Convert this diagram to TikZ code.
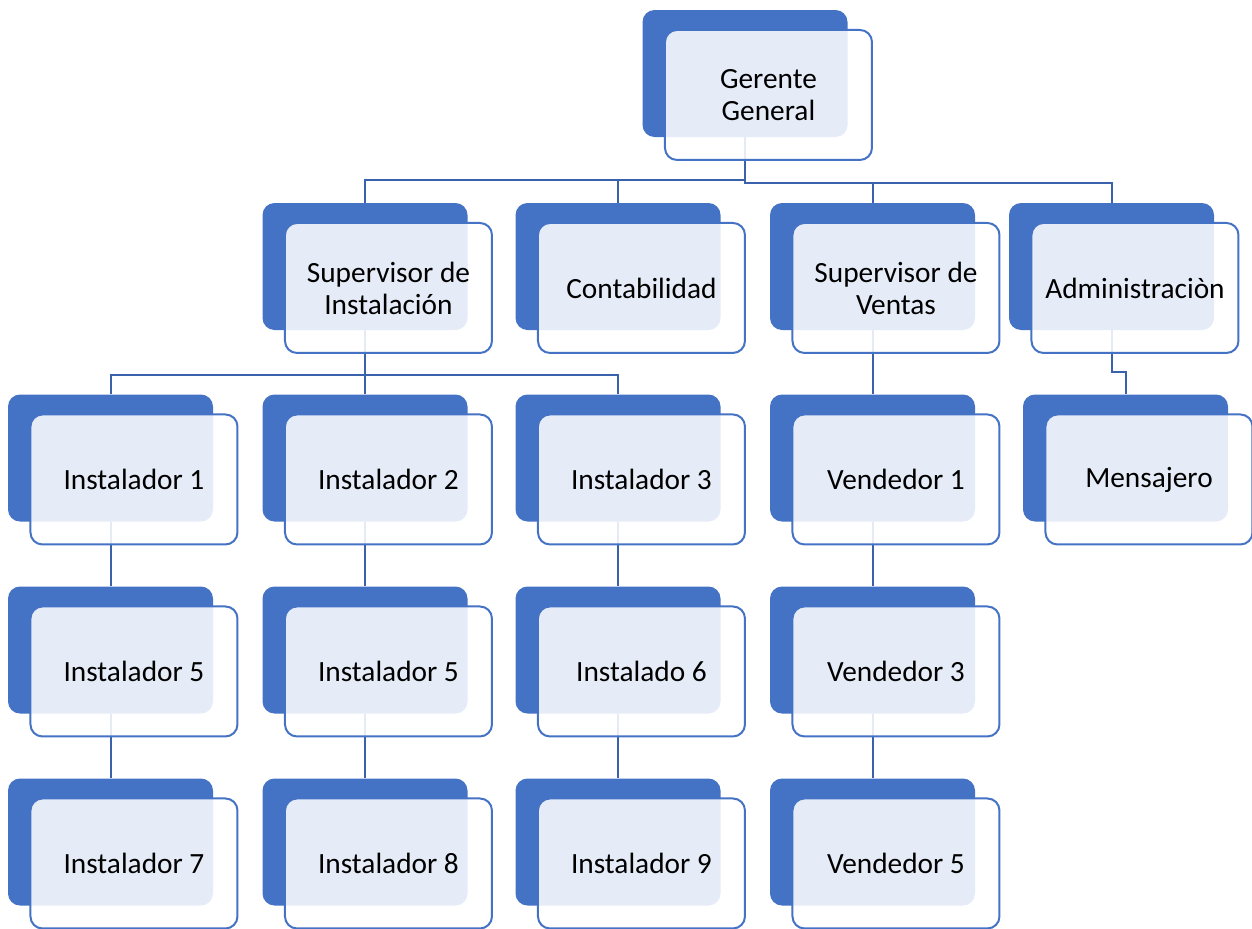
\documentclass[tikz,border=0pt]{standalone}
\usepackage{fontspec}
\setmainfont{Carlito}
\usepackage{tikz}
\definecolor{boxblue}{HTML}{4472C4}
\definecolor{linkblue}{HTML}{3A62AC}

\begin{document}
\begin{tikzpicture}[x=0.75pt,y=-0.75pt]
\tikzstyle{back}=[rectangle,rounded corners=9pt,fill=boxblue,minimum width=153.75pt,minimum height=95.25pt,inner sep=0pt]
\tikzstyle{front}=[rectangle,rounded corners=9pt,draw=boxblue,line width=1.5pt,fill=white,fill opacity=0.87,text opacity=1,minimum width=155.25pt,minimum height=97.5pt,inner sep=0pt,xshift=17.6pt,yshift=-16.1pt,align=center,font=\fontsize{22}{24}\selectfont]
\tikzstyle{link}=[draw=linkblue,line width=1.5pt]
\useasboundingbox (0,0) rectangle (1252,928);
% back boxes
\node[back] (gerente) at (745,73.5) {};
\node[back] (supinst) at (365,266.5) {};
\node[back] (conta) at (618,266.5) {};
\node[back] (supvent) at (872.5,266.5) {};
\node[back] (admin) at (1111.5,266.5) {};
\node[back] (inst1) at (110.5,458) {};
\node[back] (inst2) at (365,458) {};
\node[back] (inst3) at (618,458) {};
\node[back] (vend1) at (872.5,458) {};
\node[back] (mens) at (1125.5,458) {};
\node[back] (inst5a) at (110.5,650) {};
\node[back] (inst5b) at (365,650) {};
\node[back] (inst6) at (618,650) {};
\node[back] (vend3) at (872.5,650) {};
\node[back] (inst7) at (110.5,842) {};
\node[back] (inst8) at (365,842) {};
\node[back] (inst9) at (618,842) {};
\node[back] (vend5) at (872.5,842) {};
% connectors
\draw[link] (gerente.south) -- ++(0,43) -| (supinst.north);
\draw[link] (gerente.south) -- ++(0,43) -| (conta.north);
\draw[link] (gerente.south) -- ++(0,46) -| (supvent.north);
\draw[link] (gerente.south) -- ++(0,46) -| (admin.north);
\draw[link] (supinst.south) -- ++(0,45) -| (inst1.north);
\draw[link] (supinst.south) -- (inst2.north);
\draw[link] (supinst.south) -- ++(0,45) -| (inst3.north);
\draw[link] (supvent.south) -- (vend1.north);
\draw[link] (admin.south) -- ++(0,42) -| (mens.north);
\draw[link] (inst1.south) -- (inst5a.north);
\draw[link] (inst5a.south) -- (inst7.north);
\draw[link] (inst2.south) -- (inst5b.north);
\draw[link] (inst5b.south) -- (inst8.north);
\draw[link] (inst3.south) -- (inst6.north);
\draw[link] (inst6.south) -- (inst9.north);
\draw[link] (vend1.south) -- (vend3.north);
\draw[link] (vend3.south) -- (vend5.north);
% front boxes with the texts
\node[front] (gerente_t) at (gerente) {Gerente\\General};
\node[front] (supinst_t) at (supinst) {Supervisor de\\Instalación};
\node[front] (conta_t) at (conta) {Contabilidad};
\node[front] (supvent_t) at (supvent) {Supervisor de\\Ventas};
\node[front] (admin_t) at (admin) {Administraciòn};
\node[front] (inst1_t) at (inst1) {Instalador 1};
\node[front] (inst2_t) at (inst2) {Instalador 2};
\node[front] (inst3_t) at (inst3) {Instalador 3};
\node[front] (vend1_t) at (vend1) {Vendedor 1};
\node[front] (mens_t) at (mens) {Mensajero};
\node[front] (inst5a_t) at (inst5a) {Instalador 5};
\node[front] (inst5b_t) at (inst5b) {Instalador 5};
\node[front] (inst6_t) at (inst6) {Instalado 6};
\node[front] (vend3_t) at (vend3) {Vendedor 3};
\node[front] (inst7_t) at (inst7) {Instalador 7};
\node[front] (inst8_t) at (inst8) {Instalador 8};
\node[front] (inst9_t) at (inst9) {Instalador 9};
\node[front] (vend5_t) at (vend5) {Vendedor 5};
\end{tikzpicture}
\end{document}
